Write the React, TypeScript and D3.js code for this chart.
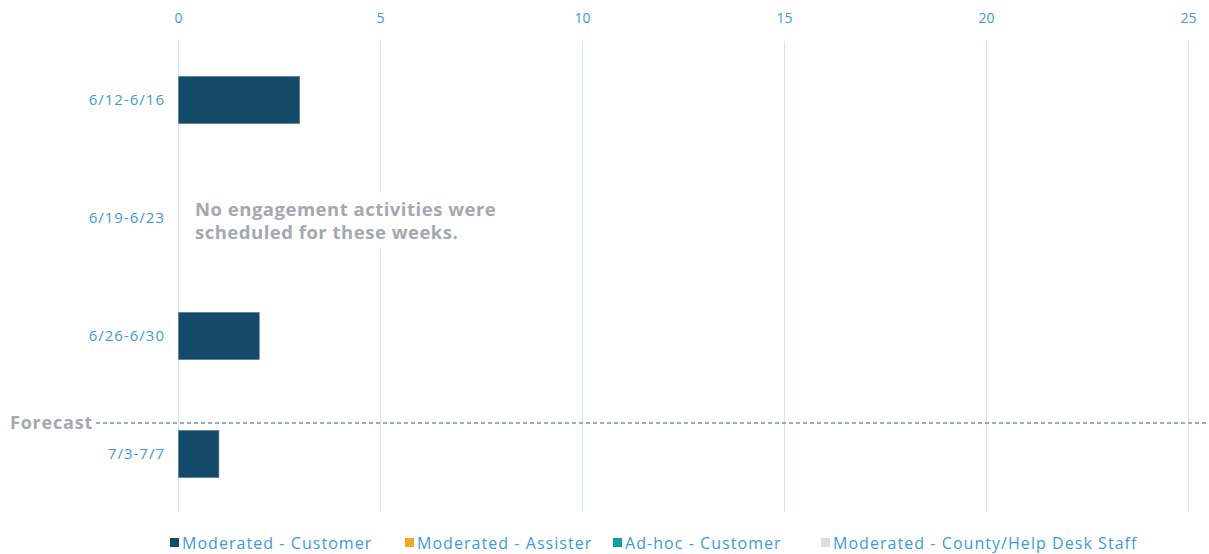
import React from "react";
import * as d3 from "d3";

const categories = ["6/12-6/16", "6/19-6/23", "6/26-6/30", "7/3-7/7"];
const moderatedCustomer = [3, 0, 2, 1];
const xTicks = [0, 5, 10, 15, 20, 25];
const legendItems = [
  { label: "Moderated - Customer", color: "#134a69" },
  { label: "Moderated - Assister", color: "#f5a623" },
  { label: "Ad-hoc - Customer", color: "#12a19a" },
  { label: "Moderated - County/Help Desk Staff", color: "#dcdde0" },
];
const legendX = [170, 405, 613, 821];
const noteLines = ["No engagement activities were", "scheduled for these weeks."];
const forecastLabel = "Forecast";

const W = 1209;
const H = 554;
const left = 178.5;
const right = 1188.5;
const top = 41;
const bottom = 513;
const blue = "#3d9bd8";
const font = "'Open Sans', 'Noto Sans', sans-serif";

export default function App() {
  const x = d3.scaleLinear().domain([0, 25]).range([left, right]);
  const y = d3.scaleBand().domain(categories).range([top, bottom]).paddingInner(0.6).paddingOuter(0.3);
  const yOuter = d3.scaleBand().domain(categories).range([top, bottom]);

  return (
    <svg width={W} height={H} style={{ position: "absolute", left: 0, top: 0, background: "#fff" }}>
      {xTicks.map((t) => (
        <g key={t}>
          <line x1={x(t)} x2={x(t)} y1={top} y2={bottom - 1} stroke="#cfe6f3" strokeWidth={1} />
          <text x={x(t)} y={23} textAnchor="middle" fill={blue} fontSize={14} fontFamily={font}>
            {t}
          </text>
        </g>
      ))}
      {categories.map((c, i) => (
        <g key={c}>
          <text
            x={165}
            y={yOuter(c)! + yOuter.bandwidth() / 2 + 5}
            textAnchor="end"
            fill={blue}
            fontSize={15}
            letterSpacing={1}
            fontFamily={font}
          >
            {c}
          </text>
          {moderatedCustomer[i] > 0 && (
            <rect
              x={x(0)}
              y={y(c)!}
              width={x(moderatedCustomer[i]) - x(0)}
              height={y.bandwidth()}
              fill="#134a69"
              stroke="#5d7f95"
              strokeWidth={0.6}
            />
          )}
        </g>
      ))}
      <rect x={188} y={192} width={320} height={56} fill="#fff" />
      {noteLines.map((l, i) => (
        <text
          key={i}
          x={195}
          y={216 + i * 23}
          fill="#a4a8b1"
          fontSize={18.5}
          letterSpacing={0.5}
          fontWeight="bold"
          fontFamily={font}
        >
          {l}
        </text>
      ))}
      <line x1={96} x2={W} y1={423} y2={423} stroke="#7b93a7" strokeWidth={1.3} strokeDasharray="4,3" />
      <text x={10} y={429} fill="#a4a8b1" fontSize={18} letterSpacing={0.8} fontWeight="bold" fontFamily={font}>
        {forecastLabel}
      </text>
      {legendItems.map((it, i) => (
        <g key={it.label}>
          <rect x={legendX[i]} y={538} width={9} height={9} fill={it.color} />
          <text x={legendX[i] + 12} y={549} fill={blue} fontSize={16} letterSpacing={1.05} fontFamily={font}>
            {it.label}
          </text>
        </g>
      ))}
    </svg>
  );
}
